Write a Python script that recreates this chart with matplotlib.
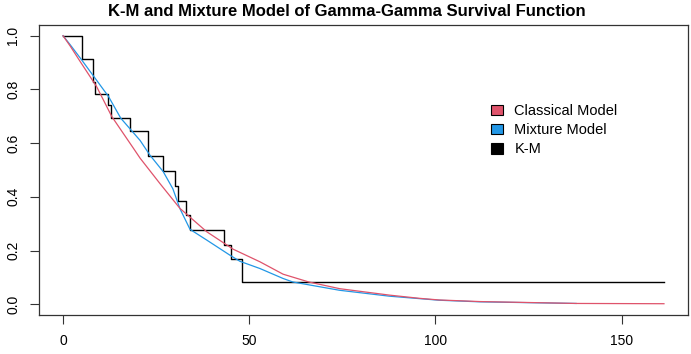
import matplotlib
matplotlib.use("Agg")
import matplotlib.pyplot as plt
from matplotlib.patches import Patch

plt.rcParams['font.family'] = ['Liberation Sans', 'DejaVu Sans']

# Kaplan-Meier steps (time, survival)
km_t = [0, 5.0, 8.0, 8.6, 12.0, 12.9, 18.0, 22.9, 26.9, 30.0, 31.0, 33.0, 34.1, 43.1, 45.0, 48.0, 161.4]
km_s = [1.0, 0.914, 0.826, 0.783, 0.741, 0.695, 0.646, 0.552, 0.497, 0.439, 0.386, 0.332, 0.276, 0.221, 0.167, 0.083, 0.083]

# classical model curve
cl_t = [0, 2.0, 4.6, 9.0, 13.1, 18.9, 20.7, 26.0, 31.4, 38.6, 45.7, 52.9, 59.1, 66.0, 74.3,
        87.7, 95.8, 101.0, 112.0, 138.0, 161.4]
cl_s = [1.0, 0.96, 0.904, 0.811, 0.699, 0.581, 0.544, 0.450, 0.357, 0.270, 0.205, 0.158, 0.112, 0.083, 0.058,
        0.034, 0.022, 0.016, 0.010, 0.003, 0.002]

# mixture model curve
mx_t = [0, 2.0, 5.0, 12.2, 15.5, 20.7, 23.3, 26.9, 29.5, 31.4, 34.1, 38.6, 44.8, 47.5, 52.9, 59.1,
        61.7, 74.3, 87.7, 101.0, 112.0, 137.8]
mx_s = [1.0, 0.965, 0.91, 0.774, 0.693, 0.61, 0.556, 0.494, 0.43, 0.356, 0.279, 0.239, 0.183, 0.160, 0.133, 0.096,
        0.083, 0.052, 0.030, 0.015, 0.009, 0.003]

red = '#DF536B'
blue = '#2297E6'

fig = plt.figure(figsize=(6.91, 3.54), dpi=100)
ax = fig.add_axes([39/691, 39/354, 649/691, 290/354])

ax.step(km_t, km_s, where='post', color='black', lw=1.0)
ax.plot(mx_t, mx_s, color=blue, lw=0.9)
ax.plot(cl_t, cl_s, color=red, lw=0.9)

xr = max(km_t)
ax.set_xlim(-0.04 * xr, 1.04 * xr)
ax.set_ylim(-0.04, 1.04)
ax.set_xticks([0, 50, 100, 150])
ax.set_yticks([0, 0.2, 0.4, 0.6, 0.8, 1.0])
ax.set_yticklabels(['0.0', '0.2', '0.4', '0.6', '0.8', '1.0'], rotation=90, va='center')
ax.tick_params(axis='both', direction='out', length=6.5, width=0.8, labelsize=10, color='#333333')
ax.tick_params(axis='x', pad=7)
ax.tick_params(axis='y', pad=7)
for sp in ax.spines.values():
    sp.set_linewidth(0.9)
    sp.set_color('#333333')

fig.text(347/691, 1 - 12/354, 'K-M and Mixture Model of Gamma-Gamma Survival Function',
         ha='center', va='center', fontsize=12, fontweight='bold')

handles = [Patch(facecolor=red, edgecolor='black', lw=0.8),
           Patch(facecolor=blue, edgecolor='black', lw=0.8),
           Patch(facecolor='black', edgecolor='black', lw=0.8)]
ax.legend(handles, ['Classical Model', 'Mixture Model', 'K-M'], frameon=False,
          loc='upper left', bbox_to_anchor=(478/691, 1 - 91/354), bbox_transform=fig.transFigure,
          fontsize=10.5, handlelength=0.8, handleheight=0.75, handletextpad=0.8, labelspacing=0.35)

fig.savefig('out.png', dpi=100)
